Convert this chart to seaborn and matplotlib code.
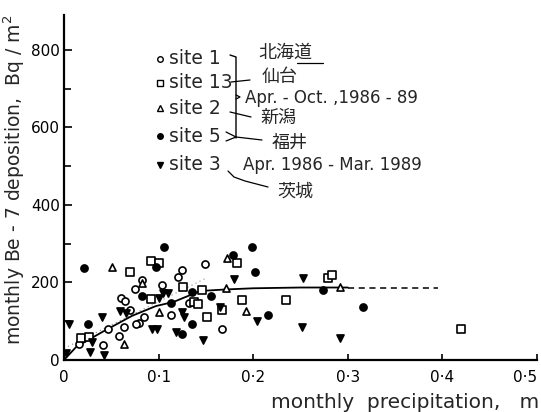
import matplotlib
matplotlib.use("Agg")
import matplotlib.pyplot as plt
import seaborn as sns
import pandas as pd
from matplotlib.lines import Line2D

# ---- data ----
site1_x = [0.082, 0.104, 0.075, 0.060, 0.065, 0.070, 0.085, 0.079, 0.076, 0.063, 0.046, 0.058, 0.041, 0.016,
           0.149, 0.125, 0.121, 0.132, 0.113, 0.167]
site1_y = [206, 194, 183, 160, 153, 129, 111, 95, 93, 86, 80, 63, 39, 41,
           248, 232, 215, 147, 116, 79]

site13_x = [0.070, 0.092, 0.100, 0.092, 0.018, 0.026, 0.183, 0.126, 0.146, 0.188, 0.137, 0.142, 0.167,
            0.151, 0.279, 0.283, 0.235, 0.420]
site13_y = [228, 256, 251, 157, 57, 60, 250, 188, 181, 155, 150, 144, 129,
            112, 211, 219, 155, 79]

site2_x = [0.051, 0.082, 0.100, 0.063, 0.172, 0.192, 0.292, 0.171]
site2_y = [240, 199, 125, 41, 263, 127, 189, 186]

site5_x = [0.021, 0.106, 0.097, 0.082, 0.113, 0.025, 0.199, 0.179, 0.202, 0.135, 0.155, 0.135, 0.216,
           0.274, 0.316, 0.125]
site5_y = [237, 292, 240, 165, 148, 93, 292, 271, 228, 176, 165, 93, 116,
           181, 138, 67]

site3_x = [0.100, 0.059, 0.066, 0.005, 0.040, 0.093, 0.098, 0.030, 0.028, 0.042, 0.002, 0.180, 0.105,
           0.110, 0.165, 0.125, 0.127, 0.204, 0.118, 0.147, 0.253, 0.252, 0.292]
site3_y = [160, 127, 122, 93, 111, 80, 80, 47, 21, 13, 19, 209, 173,
           173, 138, 125, 112, 101, 73, 52, 211, 86, 56]

fit_x = [0.0, 0.013, 0.041, 0.072, 0.097, 0.116, 0.144, 0.171, 0.200, 0.250, 0.300]
fit_y = [0, 34, 73, 114, 139, 150, 178, 182, 185, 187, 187]
ext_x = [0.300, 0.395]
ext_y = [187, 187]
dot_x = [0.0, 0.150]
dot_y = [30, 211]

site_names = ["site 1", "site 13", "site 2", "site 5", "site 3"]
xticks = [0, 0.1, 0.2, 0.3, 0.4, 0.5]
xticklabels = ["0", "0·1", "0·2", "0·3", "0·4", "0·5"]
yticks = [0, 200, 400, 600, 800]

# ---- figure ----
sns.set_style("ticks")
plt.rcParams['font.family'] = ['DejaVu Sans', 'Noto Sans CJK JP']

W, H = 541, 412
fig = plt.figure(figsize=(W / 100, H / 100), dpi=100)
ax = fig.add_axes([64 / W, 52 / H, 473 / W, 345 / H])

styles = {
    "site 1": dict(marker="o", color="white"),
    "site 13": dict(marker="s", color="white"),
    "site 2": dict(marker="^", color="white"),
    "site 5": dict(marker="o", color="black"),
    "site 3": dict(marker="v", color="black"),
}
data = {"site 1": (site1_x, site1_y), "site 13": (site13_x, site13_y), "site 2": (site2_x, site2_y),
        "site 5": (site5_x, site5_y), "site 3": (site3_x, site3_y)}

for name in site_names:
    xs, ys = data[name]
    df = pd.DataFrame({"x": xs, "y": ys})
    st = styles[name]
    sns.scatterplot(data=df, x="x", y="y", ax=ax, marker=st["marker"], color=st["color"],
                    edgecolor="black", linewidth=1.2, s=26, zorder=3, legend=False)

sns.lineplot(x=fit_x, y=fit_y, ax=ax, color="black", linewidth=1.3, sort=False, zorder=2)
sns.lineplot(x=ext_x, y=ext_y, ax=ax, color="black", linewidth=1.1, linestyle=(0, (4, 3)), sort=False, zorder=2)
sns.lineplot(x=dot_x, y=dot_y, ax=ax, color="#888888", linewidth=0.8, linestyle=(0, (1, 3)), sort=False, zorder=1)

ax.set_xlim(0, 0.5)
ax.set_ylim(0, 890)
ax.set_xticks(xticks)
ax.set_xticklabels(xticklabels)
ax.set_yticks(yticks)
ax.set_yticks([100, 300, 500, 700], minor=True)
ax.tick_params(axis="both", which="both", direction="in", width=1.2, colors="black", labelsize=11)
ax.tick_params(axis="y", which="major", length=6, pad=3)
ax.tick_params(axis="y", which="minor", length=5)
ax.tick_params(axis="x", which="major", length=4, pad=7)
for s in ["top", "right"]:
    ax.spines[s].set_visible(False)
for s in ["left", "bottom"]:
    ax.spines[s].set_linewidth(1.6)
    ax.spines[s].set_color("black")
ax.set_xlabel("")
ax.set_ylabel("")
# keep the last x tick label inside the figure
ax.get_xticklabels()[-1].set_horizontalalignment("right")

def P(x, y):
    return (x / W, 1 - y / H)

fig.text(*P(14, 180), "monthly Be - 7 deposition,  Bq / m$^2$", rotation=90, ha="center", va="center",
         fontsize=13.5)
fig.text(*P(539, 402), "monthly  precipitation,   m", ha="right", va="center", fontsize=14.5)

# legend-like annotation block
leg_y = [59, 83, 108, 136, 165]
for name, yy in zip(site_names, leg_y):
    st = styles[name]
    fig.add_artist(Line2D([160 / W], [1 - yy / H], transform=fig.transFigure, marker=st["marker"],
                          markersize=4, markerfacecolor=st["color"], markeredgecolor="black",
                          markeredgewidth=1, linestyle="none"))
    fig.text(*P(169, yy), name, ha="left", va="center", fontsize=13.5)

fig.text(*P(245, 98), "Apr. - Oct. ,1986 - 89", ha="left", va="center", fontsize=12)
fig.text(*P(243, 165), "Apr. 1986 - Mar. 1989", ha="left", va="center", fontsize=12)

jp = ["北海道", "仙台", "新潟", "福井", "茨城"]
jp_pos = [(285, 53), (280, 77), (278, 118), (290, 143), (295, 192)]
for t, (px, py) in zip(jp, jp_pos):
    fig.text(*P(px, py), t, ha="center", va="center", fontsize=13,
             family=["Noto Sans CJK JP", "DejaVu Sans"])

def seg(pts, lw=0.9):
    xs = [p[0] / W for p in pts]
    ys = [1 - p[1] / H for p in pts]
    fig.add_artist(Line2D(xs, ys, transform=fig.transFigure, color="black", linewidth=lw))

seg([(230, 55), (236, 57), (236, 138)], 1.0)
seg([(231, 82), (250, 80)])
seg([(236, 95), (240, 97), (236, 99)])
seg([(230, 112), (251, 117)])
seg([(226, 132), (236, 137), (226, 141)])
seg([(236, 137), (262, 140)])
seg([(228, 171), (234, 177), (245, 181), (268, 187)])
seg([(297, 63), (323, 63)])

fig.savefig("out.png", dpi=100, facecolor="white")
